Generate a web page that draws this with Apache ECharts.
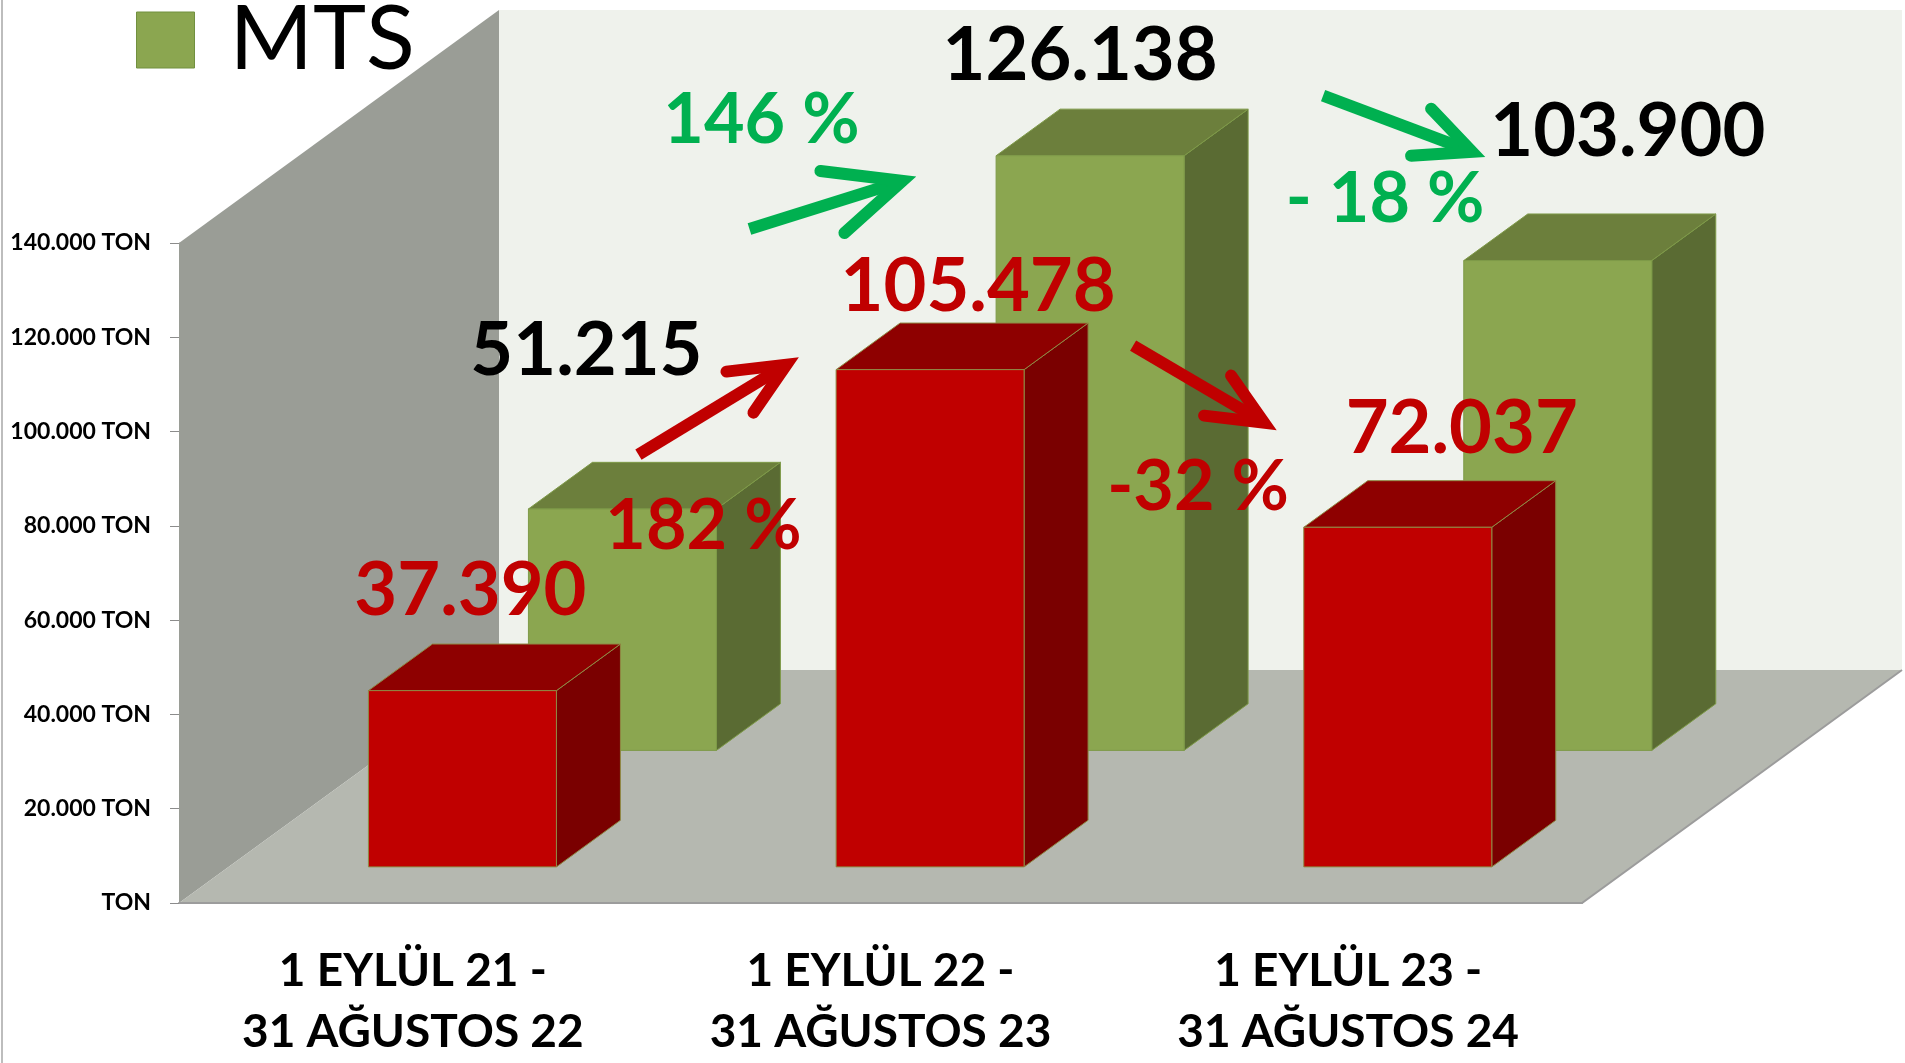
<!DOCTYPE html>
<html><head><meta charset="utf-8">
<script src="https://cdn.jsdelivr.net/npm/echarts@6/dist/echarts.min.js"></script>
<style>html,body{margin:0;padding:0;background:#fff;overflow:hidden}#c{width:1905px;height:1063px}</style>
</head><body><div id="c"></div>
<script>
// ---------- data ----------
const categories = ['1 EYLÜL 21 -\n31 AĞUSTOS 22', '1 EYLÜL 22 -\n31 AĞUSTOS 23', '1 EYLÜL 23 -\n31 AĞUSTOS 24'];
const mtsValues = [51215, 126138, 103900];     // green (back row), legend "MTS"
const otherValues = [37390, 105478, 72037];    // red (front row)
const mtsChanges = ['146 %', '- 18 %'];
const otherChanges = ['182 %', '-32 %'];
const yTickLabels = ['TON', '20.000 TON', '40.000 TON', '60.000 TON', '80.000 TON', '100.000 TON', '120.000 TON', '140.000 TON'];

// ---------- layout / style ----------
const FONT = 'Lato';
const DEPTH = [320, -233];          // full depth vector of the 3D box (px)
const BAR_W = 0.402;                // bar width as share of category band
const BAR_D = 0.2;                  // bar depth as share of box depth
const ROW = {
  other: { f: 0.155, front: '#C00000', top: '#8E0000', side: '#7A0000', stroke: '#8F8A45', text: '#C00000' },
  mts:   { f: 0.655, front: '#8BA650', top: '#6C7F3C', side: '#5A6B33', stroke: '#7E9A48', text: '#000000' }
};
// value label offsets from the bar's top-front centre
const LABEL_OFF = {
  other: [[8, -99], [48, -82], [64, -98]],
  mts:   [[-36, -158], [-10, -100], [70, -128]]
};
// change annotations anchored to the "from" bar top-front centre
const ANN = [
  { row: 'mts', from: 0, text: mtsChanges[0], color: '#00B050', label: [139, -389], tail: [127, -280], tip: [280, -328], a1: [198, -338], a2: [222, -276] },
  { row: 'mts', from: 1, text: mtsChanges[1], color: '#00B050', label: [295, 44], tail: [233, -60], tip: [382, -4], a1: [341, -47], a2: [321, 0] },
  { row: 'other', from: 0, text: otherChanges[0], color: '#C00000', label: [241, -164], tail: [176, -236], tip: [324, -326], a1: [264, -319], a2: [291, -278] },
  { row: 'other', from: 1, text: otherChanges[1], color: '#C00000', label: [268, 118], tail: [203, -24], tip: [334, 53], a1: [301, 6], a2: [274, 46] }
];

function fmt(v) { return String(v).replace(/\B(?=(\d{3})+(?!\d))/g, '.'); }

function topCentre(api, rowKey, cat, val) {
  const p = api.coord([cat, val]);
  const f = ROW[rowKey].f;
  return [p[0] + f * DEPTH[0], p[1] + f * DEPTH[1]];
}

function wallsRender(params, api) {
  const cs = params.coordSys;
  const L = cs.x, R = cs.x + cs.width, T = cs.y, B = cs.y + cs.height;
  const dx = DEPTH[0], dy = DEPTH[1];
  return {
    type: 'group',
    children: [
      { type: 'polygon', shape: { points: [[L + dx, T + dy], [R + dx, T + dy], [R + dx, B + dy], [L + dx, B + dy]] }, style: { fill: '#EFF2EC' } },
      { type: 'polygon', shape: { points: [[L, B], [L, T], [L + dx, T + dy], [L + dx, B + dy]] }, style: { fill: '#9A9D96' } },
      { type: 'polygon', shape: { points: [[L + dx, B + dy], [L, B], [R, B], [R + dx, B + dy]] }, style: { fill: '#B5B8B0' } },
      { type: 'polyline', shape: { points: [[L, B], [R, B], [R + dx, B + dy]] }, style: { stroke: '#9C9C9C', lineWidth: 2, fill: null } }
    ]
  };
}

function barRender(rowKey) {
  const cfg = ROW[rowKey];
  return function (params, api) {
    const cat = api.value(0), val = api.value(1);
    const top = api.coord([cat, val]);
    const base = api.coord([cat, 0]);
    const band = api.size([1, 0])[0];
    const w = band * BAR_W;
    const fx = cfg.f * DEPTH[0], fy = cfg.f * DEPTH[1];
    const dx = BAR_D * DEPTH[0], dy = BAR_D * DEPTH[1];
    const x0 = top[0] - w / 2 + fx, x1 = x0 + w;
    const yT = top[1] + fy, yB = base[1] + fy;
    const st = { stroke: cfg.stroke, lineWidth: 1 };
    const off = LABEL_OFF[rowKey][params.dataIndex];
    return {
      type: 'group',
      children: [
        { type: 'polygon', shape: { points: [[x1, yT], [x1 + dx, yT + dy], [x1 + dx, yB + dy], [x1, yB]] }, style: Object.assign({ fill: cfg.side }, st) },
        { type: 'polygon', shape: { points: [[x0, yT], [x1, yT], [x1 + dx, yT + dy], [x0 + dx, yT + dy]] }, style: Object.assign({ fill: cfg.top }, st) },
        { type: 'rect', shape: { x: x0, y: yT, width: w, height: yB - yT }, style: Object.assign({ fill: cfg.front }, st) },
        { type: 'text', x: (x0 + x1) / 2 + off[0], y: yT + off[1],
          style: { text: fmt(val), fill: cfg.text, font: 'bold 74px ' + FONT, align: 'center', verticalAlign: 'middle' } }
      ]
    };
  };
}

function annRender(params, api) {
  const a = ANN[params.dataIndex];
  const vals = a.row === 'mts' ? mtsValues : otherValues;
  const o = topCentre(api, a.row, a.from, vals[a.from]);
  const P = (d) => [o[0] + d[0], o[1] + d[1]];
  return {
    type: 'group',
    children: [
      { type: 'polyline', shape: { points: [P(a.tail), P(a.tip)] }, style: { stroke: a.color, lineWidth: 12, lineCap: 'butt', fill: null } },
      { type: 'polyline', shape: { points: [P(a.a1), P(a.tip), P(a.a2)] }, style: { stroke: a.color, lineWidth: 12, lineCap: 'round', lineJoin: 'miter', miterLimit: 10, fill: null } },
      { type: 'text', x: P(a.label)[0], y: P(a.label)[1], style: { text: a.text, fill: a.color, font: 'bold 70px ' + FONT, align: 'center', verticalAlign: 'middle' } }
    ]
  };
}

const chart = echarts.init(document.getElementById('c'), null, { renderer: 'canvas' });
chart.setOption({
  animation: false,
  backgroundColor: '#ffffff',
  legend: {
    left: 136, top: -5, padding: 0,
    itemWidth: 58, itemHeight: 56,
    data: [{ name: 'MTS', icon: 'rect' }],
    itemStyle: { color: '#8BA650', borderColor: '#71903F', borderWidth: 1 },
    textStyle: { fontFamily: FONT, fontSize: 90, color: '#000', padding: [0, 0, 0, 30] },
    selectedMode: false
  },
  grid: { left: 179, right: 323, top: 243, bottom: 152 },
  xAxis: {
    type: 'category', data: categories,
    axisLine: { lineStyle: { color: '#A3A3A3', width: 2 } },
    axisTick: { length: 18, lineStyle: { color: '#A3A3A3', width: 1 } },
    axisLabel: { interval: 0, margin: 38, fontFamily: FONT, fontWeight: 'bold', fontSize: 46, lineHeight: 61, color: '#000' },
    splitLine: { show: false }
  },
  yAxis: {
    type: 'value', min: 0, max: 140000, interval: 20000,
    axisLine: { show: true, lineStyle: { color: '#B0B0B0', width: 1 } },
    axisTick: { show: true, length: 9, lineStyle: { color: '#8C8C8C' } },
    axisLabel: { margin: 28, fontFamily: FONT, fontWeight: 'bold', fontSize: 23, color: '#000',
      formatter: (v) => yTickLabels[Math.round(v / 20000)] },
    splitLine: { show: false }
  },
  graphic: [
    { type: 'line', shape: { x1: 2, y1: 0, x2: 2, y2: 1063 }, style: { stroke: '#BDBDBD', lineWidth: 2 }, z: 10 }
  ],
  series: [
    { type: 'custom', name: 'walls', renderItem: wallsRender, data: [[0, 0]], clip: false, silent: true, z: 1 },
    { type: 'custom', name: 'MTS', renderItem: barRender('mts'), data: mtsValues.map((v, i) => [i, v]), clip: false, z: 2, itemStyle: { color: '#8BA650' } },
    { type: 'custom', name: 'Diğer', renderItem: barRender('other'), data: otherValues.map((v, i) => [i, v]), clip: false, z: 3, itemStyle: { color: '#C00000' } },
    { type: 'custom', name: 'changes', renderItem: annRender, data: ANN.map((a, i) => [i, 0]), clip: false, silent: true, z: 4 }
  ]
});
</script>
</body></html>
